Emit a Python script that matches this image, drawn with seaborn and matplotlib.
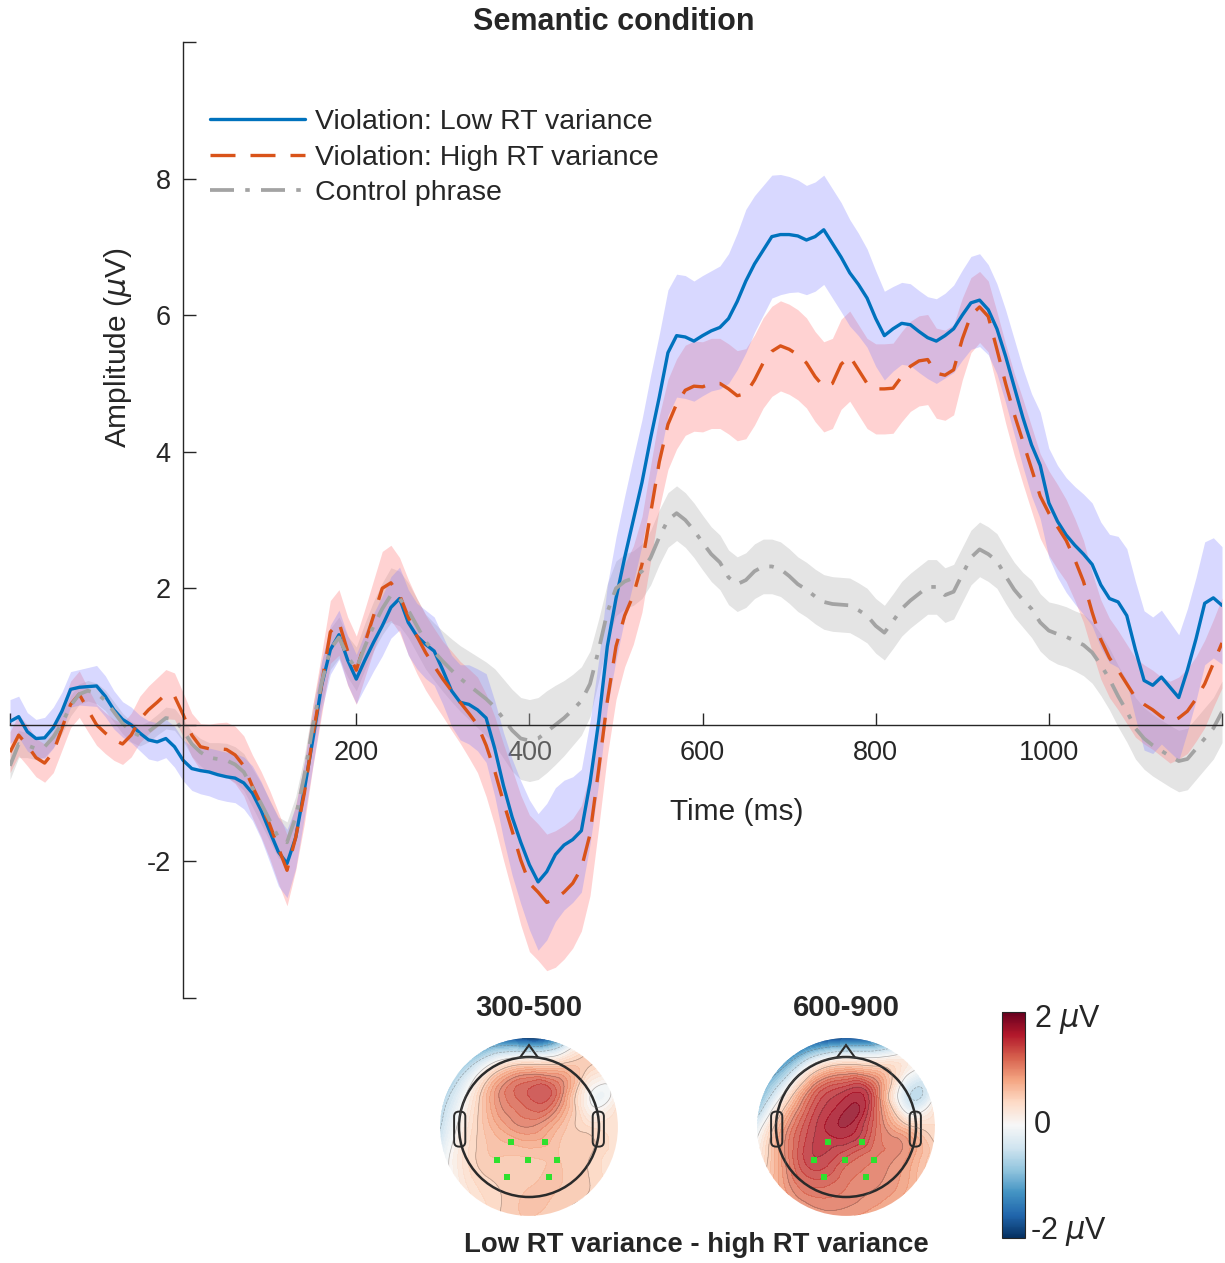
import numpy as np
import matplotlib
matplotlib.use('Agg')
import matplotlib.pyplot as plt
from matplotlib.patches import Circle, Polygon, FancyBboxPatch
from matplotlib.cm import ScalarMappable
from matplotlib.colors import Normalize
from matplotlib.tri import Triangulation, UniformTriRefiner, CubicTriInterpolator
import seaborn as sns

#---------------- ERP waveforms (uV), one value every 10 ms ----------------
time_ms = np.arange(-200, 1201, 10)

low_rt = [
    0.05, 0.12, -0.10, -0.20, -0.19, -0.04, 0.20, 0.52, 0.55, 0.56,
    0.57, 0.42, 0.22, 0.08, 0.00, -0.12, -0.22, -0.25, -0.20, -0.32,
    -0.52, -0.64, -0.67, -0.69, -0.73, -0.76, -0.78, -0.85, -1.00, -1.25,
    -1.56, -1.86, -2.03, -1.65, -0.95, -0.20, 0.58, 1.10, 1.32, 0.95,
    0.67, 0.95, 1.21, 1.45, 1.72, 1.85, 1.50, 1.30, 1.18, 1.08,
    0.80, 0.50, 0.33, 0.30, 0.22, 0.10, -0.35, -0.89, -1.35, -1.72,
    -2.05, -2.30, -2.15, -1.90, -1.76, -1.68, -1.55, -0.85, 0.05, 1.15,
    1.85, 2.45, 3.00, 3.55, 4.20, 4.80, 5.45, 5.70, 5.68, 5.62,
    5.70, 5.77, 5.82, 5.95, 6.20, 6.50, 6.75, 6.95, 7.15, 7.18,
    7.18, 7.16, 7.10, 7.15, 7.25, 7.05, 6.85, 6.62, 6.45, 6.25,
    5.95, 5.70, 5.80, 5.88, 5.86, 5.76, 5.67, 5.62, 5.70, 5.80,
    6.00, 6.18, 6.22, 6.08, 5.80, 5.40, 4.95, 4.50, 4.10, 3.80,
    3.25, 2.98, 2.78, 2.63, 2.50, 2.35, 2.05, 1.85, 1.80, 1.60,
    1.10, 0.65, 0.58, 0.70, 0.55, 0.40, 0.80, 1.26, 1.78, 1.86, 1.75]

high_rt = [
    -0.40, -0.15, -0.30, -0.48, -0.56, -0.40, -0.05, 0.30, 0.45, 0.22,
    0.00, -0.12, -0.22, -0.28, -0.15, 0.08, 0.22, 0.33, 0.45, 0.42,
    0.15, -0.15, -0.32, -0.35, -0.35, -0.36, -0.44, -0.60, -0.90, -1.16,
    -1.46, -1.80, -2.13, -1.65, -1.00, -0.15, 0.60, 1.36, 1.50, 1.08,
    0.80, 1.20, 1.60, 2.00, 2.08, 1.90, 1.58, 1.30, 1.06, 0.86,
    0.67, 0.50, 0.33, 0.17, 0.00, -0.30, -0.68, -1.13, -1.55, -1.98,
    -2.32, -2.45, -2.60, -2.55, -2.45, -2.32, -2.10, -1.60, -0.65, 0.35,
    1.15, 1.60, 1.90, 2.35, 3.10, 3.85, 4.40, 4.70, 4.90, 4.96,
    4.95, 5.00, 5.00, 4.92, 4.82, 4.85, 5.05, 5.30, 5.47, 5.55,
    5.50, 5.42, 5.30, 5.10, 4.95, 5.00, 5.28, 5.40, 5.20, 5.00,
    4.92, 4.92, 4.93, 5.10, 5.25, 5.33, 5.35, 5.15, 5.12, 5.20,
    5.65, 6.00, 6.12, 5.98, 5.50, 5.00, 4.55, 4.15, 3.75, 3.35,
    3.10, 2.90, 2.70, 2.42, 2.10, 1.65, 1.25, 0.98, 0.80, 0.60,
    0.40, 0.30, 0.22, 0.12, 0.04, 0.10, 0.20, 0.38, 0.60, 0.90, 1.20]

control = [
    -0.60, -0.28, -0.30, -0.35, -0.32, -0.18, 0.02, 0.28, 0.45, 0.50,
    0.46, 0.36, 0.19, 0.02, -0.10, -0.16, -0.10, 0.00, 0.10, 0.08,
    -0.08, -0.28, -0.40, -0.48, -0.50, -0.52, -0.58, -0.69, -0.92, -1.15,
    -1.40, -1.65, -1.72, -1.35, -0.75, 0.00, 0.62, 1.11, 1.28, 1.00,
    0.82, 1.15, 1.45, 1.70, 1.90, 1.85, 1.68, 1.45, 1.22, 1.07,
    0.93, 0.80, 0.68, 0.58, 0.48, 0.38, 0.26, 0.09, -0.08, -0.20,
    -0.23, -0.20, -0.10, 0.00, 0.10, 0.22, 0.35, 0.60, 1.10, 1.65,
    2.00, 2.10, 2.15, 2.25, 2.45, 2.75, 3.00, 3.10, 3.00, 2.85,
    2.67, 2.50, 2.38, 2.16, 2.06, 2.12, 2.25, 2.32, 2.32, 2.28,
    2.18, 2.06, 1.98, 1.88, 1.80, 1.77, 1.76, 1.75, 1.68, 1.60,
    1.45, 1.35, 1.52, 1.70, 1.82, 1.92, 2.02, 2.02, 1.90, 1.95,
    2.20, 2.45, 2.57, 2.50, 2.40, 2.18, 1.98, 1.83, 1.70, 1.50,
    1.38, 1.33, 1.29, 1.23, 1.17, 1.06, 0.88, 0.67, 0.42, 0.20,
    -0.05, -0.20, -0.30, -0.38, -0.46, -0.53, -0.50, -0.35, -0.20, -0.05, 0.19]

# half width of the shaded error bands
low_rt_err = [
    0.32, 0.30, 0.28, 0.28, 0.30, 0.30, 0.28, 0.26, 0.26, 0.28,
    0.30, 0.30, 0.28, 0.26, 0.26, 0.26, 0.28, 0.28, 0.28, 0.30,
    0.30, 0.32, 0.34, 0.35, 0.36, 0.36, 0.36, 0.38, 0.40, 0.42,
    0.45, 0.50, 0.50, 0.45, 0.40, 0.38, 0.36, 0.36, 0.36, 0.36,
    0.36, 0.40, 0.42, 0.44, 0.45, 0.46, 0.48, 0.48, 0.50, 0.50,
    0.50, 0.52, 0.55, 0.58, 0.60, 0.65, 0.70, 0.78, 0.85, 0.90,
    0.95, 1.00, 1.00, 0.98, 0.95, 0.92, 0.90, 0.90, 0.90, 0.90,
    0.90, 0.90, 0.92, 0.92, 0.92, 0.92, 0.92, 0.90, 0.90, 0.88,
    0.88, 0.88, 0.90, 0.95, 1.00, 1.05, 1.00, 0.95, 0.90, 0.88,
    0.85, 0.82, 0.80, 0.80, 0.80, 0.80, 0.80, 0.78, 0.75, 0.72,
    0.70, 0.65, 0.62, 0.60, 0.60, 0.60, 0.60, 0.62, 0.62, 0.64,
    0.66, 0.68, 0.68, 0.66, 0.66, 0.68, 0.70, 0.72, 0.75, 0.78,
    0.80, 0.82, 0.84, 0.86, 0.88, 0.90, 0.92, 0.94, 0.96, 0.98,
    1.00, 1.02, 1.00, 0.98, 0.95, 0.92, 0.90, 0.90, 0.90, 0.88, 0.86]

high_rt_err = [
    0.30, 0.30, 0.30, 0.28, 0.28, 0.30, 0.32, 0.34, 0.34, 0.32,
    0.30, 0.30, 0.30, 0.30, 0.32, 0.34, 0.35, 0.36, 0.36, 0.34,
    0.32, 0.32, 0.34, 0.36, 0.38, 0.40, 0.42, 0.44, 0.46, 0.48,
    0.50, 0.52, 0.52, 0.48, 0.45, 0.45, 0.45, 0.46, 0.48, 0.50,
    0.50, 0.50, 0.52, 0.54, 0.55, 0.55, 0.55, 0.55, 0.55, 0.55,
    0.55, 0.58, 0.60, 0.65, 0.70, 0.75, 0.80, 0.85, 0.90, 0.95,
    1.00, 1.00, 1.00, 1.00, 0.98, 0.95, 0.92, 0.90, 0.85, 0.80,
    0.78, 0.75, 0.72, 0.70, 0.70, 0.68, 0.66, 0.66, 0.66, 0.66,
    0.66, 0.66, 0.66, 0.66, 0.66, 0.66, 0.66, 0.66, 0.66, 0.66,
    0.66, 0.66, 0.66, 0.66, 0.66, 0.66, 0.66, 0.66, 0.66, 0.66,
    0.66, 0.66, 0.66, 0.66, 0.66, 0.66, 0.66, 0.66, 0.66, 0.66,
    0.60, 0.55, 0.52, 0.52, 0.55, 0.58, 0.60, 0.62, 0.62, 0.62,
    0.62, 0.62, 0.60, 0.60, 0.60, 0.58, 0.58, 0.58, 0.58, 0.58,
    0.58, 0.58, 0.58, 0.58, 0.60, 0.60, 0.62, 0.62, 0.64, 0.64, 0.66]

control_err = [
    0.20, 0.20, 0.18, 0.16, 0.15, 0.15, 0.15, 0.15, 0.15, 0.15,
    0.15, 0.15, 0.15, 0.15, 0.15, 0.15, 0.15, 0.15, 0.16, 0.16,
    0.16, 0.18, 0.20, 0.22, 0.24, 0.25, 0.26, 0.27, 0.28, 0.30,
    0.30, 0.30, 0.30, 0.30, 0.30, 0.30, 0.30, 0.30, 0.30, 0.30,
    0.32, 0.34, 0.36, 0.38, 0.40, 0.40, 0.40, 0.40, 0.40, 0.42,
    0.44, 0.46, 0.48, 0.50, 0.52, 0.54, 0.56, 0.58, 0.60, 0.60,
    0.60, 0.60, 0.60, 0.58, 0.55, 0.52, 0.50, 0.48, 0.45, 0.42,
    0.40, 0.40, 0.40, 0.40, 0.40, 0.40, 0.40, 0.40, 0.40, 0.40,
    0.40, 0.40, 0.40, 0.40, 0.40, 0.40, 0.40, 0.40, 0.40, 0.40,
    0.40, 0.40, 0.40, 0.40, 0.40, 0.40, 0.40, 0.40, 0.40, 0.40,
    0.40, 0.40, 0.40, 0.40, 0.40, 0.40, 0.40, 0.40, 0.40, 0.40,
    0.40, 0.40, 0.40, 0.40, 0.40, 0.40, 0.40, 0.40, 0.42, 0.42,
    0.42, 0.44, 0.44, 0.44, 0.45, 0.45, 0.45, 0.45, 0.45, 0.45,
    0.45, 0.45, 0.45, 0.45, 0.45, 0.45, 0.45, 0.45, 0.45, 0.45, 0.45]

#---------------- scalp maps (difference, uV), 7x7 grid, top row = front ----------------
grid_pos = [-1.3, -0.87, -0.43, 0.0, 0.43, 0.87, 1.3]

topo_300_500 = [
    [-1.5, -2.0, -1.8, -2.2, -1.4, 0.2, 0.3],
    [-1.2, -0.6, 0.3, 0.6, 0.6, 0.5, 0.1],
    [-0.8, 0.1, 1.0, 1.3, 1.1, 0.0, 0.3],
    [-0.6, 0.3, 0.8, 1.0, 0.7, 0.4, 0.4],
    [-0.3, 0.4, 0.6, 0.6, 0.6, 0.5, 0.3],
    [-0.3, 0.3, 0.5, 0.6, 0.6, 0.5, 0.3],
    [-0.1, 0.2, 0.5, 0.6, 0.5, 0.3, 0.2]]

topo_600_900 = [
    [-2.5, -2.5, -2.2, -2.0, -1.8, -1.0, 0.0],
    [-1.6, -1.0, 0.2, 0.6, 0.5, 0.2, -0.3],
    [-1.2, 0.2, 1.3, 1.6, 1.2, -0.4, 0.2],
    [-0.3, 0.9, 1.5, 1.7, 1.2, 0.6, 0.4],
    [0.1, 1.0, 1.5, 1.3, 1.1, 0.9, 0.5],
    [0.3, 0.9, 1.2, 1.1, 1.0, 0.8, 0.4],
    [0.3, 0.6, 0.9, 0.9, 0.8, 0.5, 0.3]]

# highlighted electrodes (head radius = 1)
roi_x = [-0.26, 0.23, -0.46, -0.01, 0.40, -0.31, 0.29]
roi_y = [-0.21, -0.21, -0.47, -0.47, -0.47, -0.71, -0.71]

W, H = 1225, 1263
sns.set_theme(style='white')
plt.rcParams['font.family'] = ['Liberation Sans', 'DejaVu Sans']
plt.rcParams['mathtext.fontset'] = 'dejavusans'

fig = plt.figure(figsize=(W / 100, H / 100), dpi=100)
ax = fig.add_axes([10 / W, 1 - 998 / H, 1212 / W, 956 / H])

blue = '#0072BD'
red = '#D95319'
grey = '#a3a3a3'

ax.fill_between(time_ms, np.array(control) - control_err, np.array(control) + control_err,
                color='#b8b8b8', alpha=0.38, lw=0)
ax.fill_between(time_ms, np.array(high_rt) - high_rt_err, np.array(high_rt) + high_rt_err,
                color='#ff8080', alpha=0.35, lw=0)
ax.fill_between(time_ms, np.array(low_rt) - low_rt_err, np.array(low_rt) + low_rt_err,
                color='#8080ff', alpha=0.3, lw=0)

sns.lineplot(x=time_ms, y=low_rt, ax=ax, color=blue, lw=2.4,
             label='Violation: Low RT variance')
sns.lineplot(x=time_ms, y=high_rt, ax=ax, color=red, lw=2.4, linestyle=(0, (7.5, 4.5)),
             label='Violation: High RT variance')
sns.lineplot(x=time_ms, y=control, ax=ax, color=grey, lw=2.7, linestyle=(0, (6.4, 3, 1.2, 3)),
             label='Control phrase')

ax.set_xlim(-200, 1200)
ax.set_ylim(-4, 10)
for s in ['top', 'right']:
    ax.spines[s].set_visible(False)
ax.spines['left'].set_position(('data', 0))
ax.spines['bottom'].set_position(('data', 0))
for s in ['left', 'bottom']:
    ax.spines[s].set_color('#262626')
    ax.spines[s].set_linewidth(1.0)

ax.set_xticks(range(-200, 1201, 200))
ax.set_xticklabels(['', '', '200', '400', '600', '800', '1000', ''])
ax.set_yticks(range(-4, 11, 2))
ax.set_yticklabels(['', '-2', '', '2', '4', '6', '8', ''])
ax.tick_params(axis='both', direction='in', length=9, width=1, colors='#262626',
               labelsize=19.5, bottom=True, left=True)
ax.tick_params(axis='x', pad=11)
ax.tick_params(axis='y', pad=9)
ax.set_xlabel('')
ax.set_ylabel('')

ax.legend(loc='upper left', bbox_to_anchor=(210 / W, 1 - 109 / H), bbox_transform=fig.transFigure,
          frameon=False, fontsize=20.5, handlelength=3.35, handletextpad=0.35,
          labelspacing=0.34, borderpad=0, borderaxespad=0)

fig.text(614 / W, 1 - 22 / H, 'Semantic condition', ha='center', va='center',
         fontsize=22, fontweight='bold')
fig.text(118 / W, 1 - 348 / H, r'Amplitude ($\mu$V)', ha='center', va='center',
         rotation=90, fontsize=21.5, color='#262626')
fig.text(737 / W, 1 - 812 / H, 'Time (ms)', ha='center', va='center',
         fontsize=21.5, color='#262626')

#---------------- topographies ----------------
gx, gy = np.meshgrid(grid_pos, grid_pos[::-1])
scalp_tri = Triangulation(gx.ravel(), gy.ravel())
refiner = UniformTriRefiner(scalp_tri)
levels = np.linspace(-2, 2, 41)


def draw_topo(cx, cy, grid, title):
    size = 203
    tax = fig.add_axes([(cx - size / 2) / W, 1 - (cy + size / 2) / H, size / W, size / H])
    tax.set_xlim(-1.45, 1.45)
    tax.set_ylim(-1.45, 1.45)
    tax.set_aspect('equal')
    tax.axis('off')
    z = np.array(grid).ravel()
    tri_f, z_f = refiner.refine_field(z, triinterpolator=CubicTriInterpolator(scalp_tri, z),
                                      subdiv=4)
    disc = Circle((0, 0), 1.27, transform=tax.transData)
    cf = tax.tricontourf(tri_f, np.clip(z_f, -1.99, 1.99), levels=levels, cmap='RdBu_r',
                         vmin=-2, vmax=2, alpha=0.85)
    cl = tax.tricontour(tri_f, z_f, levels=[-1.0, -0.5, 0.0, 0.5, 1.0, 1.5],
                        colors='#666666', linewidths=0.5, alpha=0.5)
    cf.set_clip_path(disc)
    cl.set_clip_path(disc)
    tax.add_patch(Circle((0, 0), 1.0, fill=False, lw=1.8, ec='#2a2a2a'))
    tax.add_patch(Polygon([(-0.13, 0.99), (0.0, 1.17), (0.13, 0.99)], closed=False,
                          fill=False, lw=1.5, ec='#2a2a2a'))
    for ex in (-0.99, 0.99):
        tax.add_patch(FancyBboxPatch((ex - 0.05, -0.25), 0.10, 0.44,
                                     boxstyle='round,pad=0.03,rounding_size=0.07',
                                     fill=False, lw=1.4, ec='#2a2a2a'))
    tax.scatter(roi_x, roi_y, marker='s', s=22, c='#2ee02e', lw=0, zorder=5)
    fig.text(cx / W, 1 - 1008 / H, title, ha='center', va='center',
             fontsize=21, fontweight='bold')


draw_topo(529, 1127, topo_300_500, '300-500')
draw_topo(846, 1127, topo_600_900, '600-900')

cax = fig.add_axes([1002 / W, 1 - 1238 / H, 23 / W, 226 / H])
cb = fig.colorbar(ScalarMappable(norm=Normalize(-2, 2), cmap='RdBu_r'), cax=cax)
cb.set_ticks([])
cb.outline.set_linewidth(0.8)
fig.text(1034 / W, 1 - 1020 / H, r'2 $\mu$V', ha='left', va='center', fontsize=22)
fig.text(1034 / W, 1 - 1125 / H, '0', ha='left', va='center', fontsize=22)
fig.text(1030 / W, 1 - 1232 / H, r'-2 $\mu$V', ha='left', va='center', fontsize=22)

fig.text(696 / W, 1 - 1245 / H, 'Low RT variance - high RT variance', ha='center',
         va='center', fontsize=19.8, fontweight='bold')

fig.savefig('out.png', dpi=100)
